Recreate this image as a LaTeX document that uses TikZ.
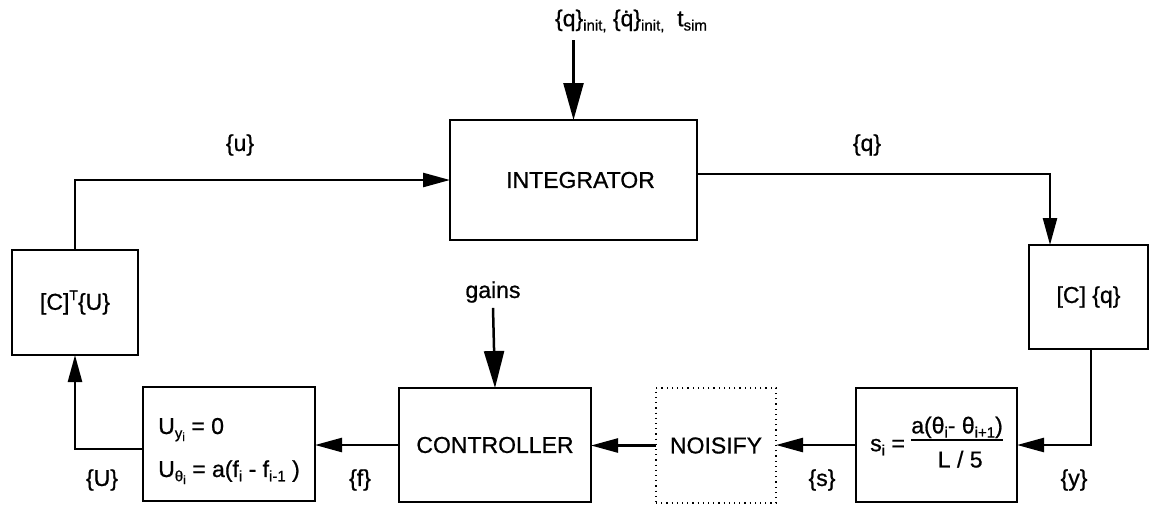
\documentclass[tikz,border=0pt]{standalone}
\usepackage{fontspec}
\setmainfont{Liberation Sans}[FakeBold=0.8]
\usetikzlibrary{arrows.meta,calc}
\newcommand{\sbx}[1]{\raisebox{-0.35ex}{\fontsize{15}{15}\selectfont #1}}
\newcommand{\ssbx}[1]{\raisebox{-0.35ex}{\fontsize{12}{12}\selectfont #1}}
\newcommand{\spx}[1]{\raisebox{0.8ex}{\fontsize{14}{14}\selectfont #1}}
\begin{document}
\begin{tikzpicture}[x=1pt,y=-1pt,line width=2.5pt,
  font=\fontsize{23}{27}\selectfont,
  blk/.style={draw,line width=2.5pt,inner sep=0pt,outer sep=0pt},
  arr/.style={-{Triangle[length=27pt,width=14pt]}},
  arrbig/.style={-{Triangle[length=37pt,width=20pt]}},
  lbl/.style={inner sep=0pt}]
\useasboundingbox (0,0) rectangle (1150,504);
% blocks
\node[blk,minimum width=247pt,minimum height=120pt] (integ) at (573.5,180) {\hspace*{14pt}INTEGRATOR};
\node[blk,minimum width=126pt,minimum height=105pt] (ctu) at (75,302.5) {[C]\spx{T}\{U\}};
\node[blk,minimum width=172pt,minimum height=114pt,align=left,font=\fontsize{23}{27}\selectfont] (ubox) at (229,444)
  {\rule{0pt}{30pt}U\sbx{y\ssbx{i}} = 0\\[16pt] U\sbx{θ\ssbx{i}} = a(f\sbx{i} - f\sbx{i-1} )};
\node[blk,minimum width=192pt,minimum height=114pt] (ctrl) at (495,445) {CONTROLLER};
\node[draw,line width=1.5pt,dash pattern=on 1.2pt off 4pt,inner sep=0pt,outer sep=0pt,
  minimum width=120pt,minimum height=115pt] (noise) at (716,445.5) {NOISIFY};
\node[blk,minimum width=161pt,minimum height=114pt,font=\fontsize{23}{27}\selectfont] (sbox) at (936.5,445)
  {\setlength{\arrayrulewidth}{2pt}s\sbx{i} = \begin{tabular}[c]{@{}c@{}}a(θ\sbx{i}- θ\sbx{i+1})\\[-2pt]\hline\rule{0pt}{26pt}\ L / 5\end{tabular}};
\node[blk,minimum width=119pt,minimum height=104pt] (cq) at (1088.5,297) {[C] \{q\}};
% inputs
\node[lbl] (init) at (631,21) {\{q\}\sbx{init,} \{\.{q}\}\sbx{init,} \ t\sbx{sim}};
\coordinate (initsrc) at (573.5,40);
\node[lbl] (gains) at (493,292) {gains};
% labels
\node[lbl] (lu) at (240,145) {\{u\}};
\node[lbl] (lq) at (867,145) {\{q\}};
\node[lbl] (lU) at (102,480) {\{U\}};
\node[lbl] (lf) at (360,480) {\{f\}};
\node[lbl] (ls) at (822,480) {\{s\}};
\node[lbl] (ly) at (1074,480) {\{y\}};
% connectors
\draw[arrbig] (initsrc) -- (integ.north);
\draw[arr] ([yshift=6pt]integ.east) -| ([xshift=-38.5pt]cq.north);
\draw[arr] (ctu.north) |- (integ.west);
\draw[arr] ([yshift=-5pt]ubox.west) -| (ctu.south);
\draw[arr] (ctrl.west) -- (ctrl.west -| ubox.east);
\draw[arr] (noise.west) -- (noise.west -| ctrl.east);
\draw[arr] (sbox.west) -- (sbox.west -| noise.east);
\draw[arr] ([xshift=2.5pt]cq.south) |- (sbox.east);
\draw[arrbig] ([yshift=-4pt]gains.south) -- (ctrl.north);
\end{tikzpicture}
\end{document}
